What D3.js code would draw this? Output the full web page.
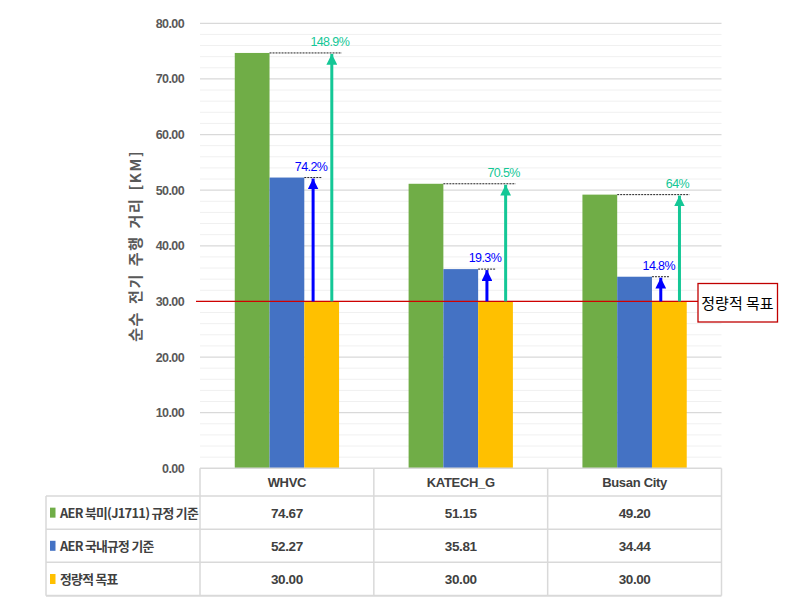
<!DOCTYPE html>
<html><head><meta charset="utf-8">
<script src="https://cdn.jsdelivr.net/npm/d3@7"></script>
<style>
body{margin:0;background:#fff;}
text{font-family:"Liberation Sans Narrow","Liberation Sans","Noto Sans CJK KR",sans-serif;}
.kr{font-family:"Noto Sans CJK KR",sans-serif;}
</style></head>
<body><svg id="c" width="793" height="606"></svg>
<script>
const categories = ["WHVC", "KATECH_G", "Busan City"];
const seriesNames = ["AER 북미(J1711) 규정 기준", "AER 국내규정 기준", "정량적 목표"];
const seriesColors = ["#70ad47", "#4472c4", "#ffc000"];
const northAmerica = [74.67, 51.15, 49.20];
const domestic = [52.27, 35.81, 34.44];
const target = [30.00, 30.00, 30.00];
const tableLabels = [["74.67","51.15","49.20"],["52.27","35.81","34.44"],["30.00","30.00","30.00"]];
const greenPct = ["148.9%", "70.5%", "64%"];
const bluePct = ["74.2%", "19.3%", "14.8%"];
const yTicks = [0,10,20,30,40,50,60,70,80];
const yTitle = "순수 전기 주행 거리 [KM]";
const targetLabel = "정량적 목표";
const targetValue = 30;

const series = [northAmerica, domestic, target];
const svg = d3.select("#c");
const L = 200, R = 721.5, T = 23.3, B = 468.3;
const y = d3.scaleLinear().domain([0,80]).range([B, T]);
const x0 = d3.scaleBand().domain(categories).range([L, R]);
const x1 = d3.scaleBand().domain(d3.range(3)).range([0, x0.bandwidth()]).paddingOuter(1);

// grid
const minor = d3.range(0, 81, 2).filter(v => v % 10 !== 0);
svg.append("g").selectAll("line").data(minor).join("line")
  .attr("x1", L).attr("x2", R).attr("y1", d => y(d)).attr("y2", d => y(d))
  .attr("stroke", "#f0f0f0").attr("stroke-width", 1);
svg.append("g").selectAll("line").data(yTicks.filter(v=>v>0)).join("line")
  .attr("x1", L).attr("x2", R).attr("y1", d => y(d)).attr("y2", d => y(d))
  .attr("stroke", "#d9d9d9").attr("stroke-width", 1.2);

// y axis labels
const yAxis = d3.axisLeft(y).tickValues(yTicks).tickFormat(d3.format(".2f")).tickSize(0).tickPadding(16);
const ya = svg.append("g").attr("transform", `translate(${L},0)`).call(yAxis);
ya.select(".domain").remove();
ya.selectAll("text").attr("font-size", 12.5).attr("font-weight", "bold").attr("fill", "#595959")
  .attr("letter-spacing", -0.6)
  .style("font-family", '"Liberation Sans Narrow","Liberation Sans",sans-serif');

// y title
svg.append("text").attr("class","kr")
  .attr("transform", `translate(141,${(T+B)/2}) rotate(-90)`)
  .attr("text-anchor", "middle").attr("font-size", 15).attr("font-weight", "bold")
  .attr("letter-spacing", 1.6).attr("word-spacing", 2).attr("fill", "#595959").text(yTitle);

// bars
series.forEach((vals, si) => {
  svg.append("g").selectAll("rect").data(categories).join("rect")
    .attr("x", (c) => x0(c) + x1(si)).attr("width", x1.bandwidth())
    .attr("y", (c, i) => y(vals[i])).attr("height", (c, i) => B - y(vals[i]))
    .attr("fill", seriesColors[si]);
});

// target line
svg.append("line").attr("x1", L - 4).attr("x2", 698).attr("y1", y(targetValue)).attr("y2", y(targetValue))
  .attr("stroke", "#d00000").attr("stroke-width", 1.3);
svg.append("rect").attr("x", 698).attr("y", 283.5).attr("width", 79.5).attr("height", 38.5)
  .attr("fill", "#fff").attr("stroke", "#c00000").attr("stroke-width", 1.3);
svg.append("text").attr("class","kr").attr("x", 737.5).attr("y", 308.5).attr("text-anchor","middle")
  .attr("font-size", 15).attr("fill", "#000").text(targetLabel);

// arrows
const defs = svg.append("defs");
function marker(id, color){
  defs.append("marker").attr("id", id).attr("viewBox","0 0 10 10").attr("refX", 10).attr("refY", 5)
    .attr("markerWidth", 3.6).attr("markerHeight", 3.6).attr("markerUnits","strokeWidth").attr("orient","auto")
    .append("path").attr("d","M0,0 L10,5 L0,10 Z").attr("fill", color);
}
const teal = "#14c796", blue = "#0000ff";
marker("mt", teal); marker("mb", blue);

function arrowSet(vals, si, offset, color, mid, labels, dashRight, lblGap){
  const g = svg.append("g");
  categories.forEach((c, i) => {
    const ax = x0(c) + x1(2) + offset;
    const topY = y(vals[i]);
    g.append("line").attr("x1", x0(c) + x1(si) + x1.bandwidth()).attr("x2", ax + dashRight)
      .attr("y1", topY).attr("y2", topY).attr("stroke", "#222").attr("stroke-width", 1).attr("stroke-dasharray", "2,1");
    g.append("line").attr("x1", ax).attr("x2", ax).attr("y1", y(targetValue)).attr("y2", topY + 1)
      .attr("stroke", color).attr("stroke-width", 3).attr("marker-end", `url(#${mid})`);
    g.append("text").attr("x", ax - 2).attr("y", topY - lblGap).attr("text-anchor","middle")
      .attr("font-size", 12.5).attr("letter-spacing", -0.6).attr("fill", color).text(labels[i]);
  });
}
arrowSet(northAmerica, 0, 27.5, teal, "mt", greenPct, 10, 7);
arrowSet(domestic, 1, 8.8, blue, "mb", bluePct, 8.5, 7);

// table
const rowY = [468.3, 496, 529.3, 562.3, 595.7];
const tg = svg.append("g");
const bc = "#d9d9d9";
tg.append("line").attr("x1", L).attr("x2", R).attr("y1", rowY[0]).attr("y2", rowY[0]).attr("stroke", bc).attr("stroke-width", 1.5);
[1,2,3,4].forEach(k => tg.append("line").attr("x1", 46).attr("x2", R).attr("y1", rowY[k]).attr("y2", rowY[k])
  .attr("stroke", bc).attr("stroke-width", k===4?2:1.5));
tg.append("line").attr("x1", 46).attr("x2", 46).attr("y1", rowY[1]).attr("y2", rowY[4]).attr("stroke", bc).attr("stroke-width", 1.5);
[L, ...categories.map(c => x0(c) + x0.bandwidth())].forEach(xv =>
  tg.append("line").attr("x1", xv).attr("x2", xv).attr("y1", rowY[0]).attr("y2", rowY[4]).attr("stroke", bc).attr("stroke-width", 1.5));
tg.selectAll("text.h").data(categories).join("text").attr("class","h")
  .attr("x", c => x0(c) + x0.bandwidth()/2).attr("y", (rowY[0]+rowY[1])/2 + 5)
  .attr("text-anchor","middle").attr("font-size", 13).attr("font-weight","bold").attr("letter-spacing", -0.3)
  .attr("fill","#404040").text(c => c);
seriesNames.forEach((nm, r) => {
  const cy = (rowY[r+1] + rowY[r+2]) / 2;
  tg.append("rect").attr("x", 50).attr("y", cy - 5).attr("width", 5.5).attr("height", 10).attr("fill", seriesColors[r]);
  tg.append("text").attr("class","kr").attr("x", 60).attr("y", cy + 5).attr("font-size", 12.8).attr("font-weight","bold")
    .attr("letter-spacing", -0.7).attr("fill","#404040").text(nm);
  tg.selectAll(null).data(categories).join("text")
    .attr("x", c => x0(c) + x0.bandwidth()/2).attr("y", cy + 5).attr("text-anchor","middle")
    .attr("font-size", 13.5).attr("font-weight","bold").attr("letter-spacing", -0.4).attr("fill","#404040").text((c,i) => tableLabels[r][i]);
});
</script></body></html>
